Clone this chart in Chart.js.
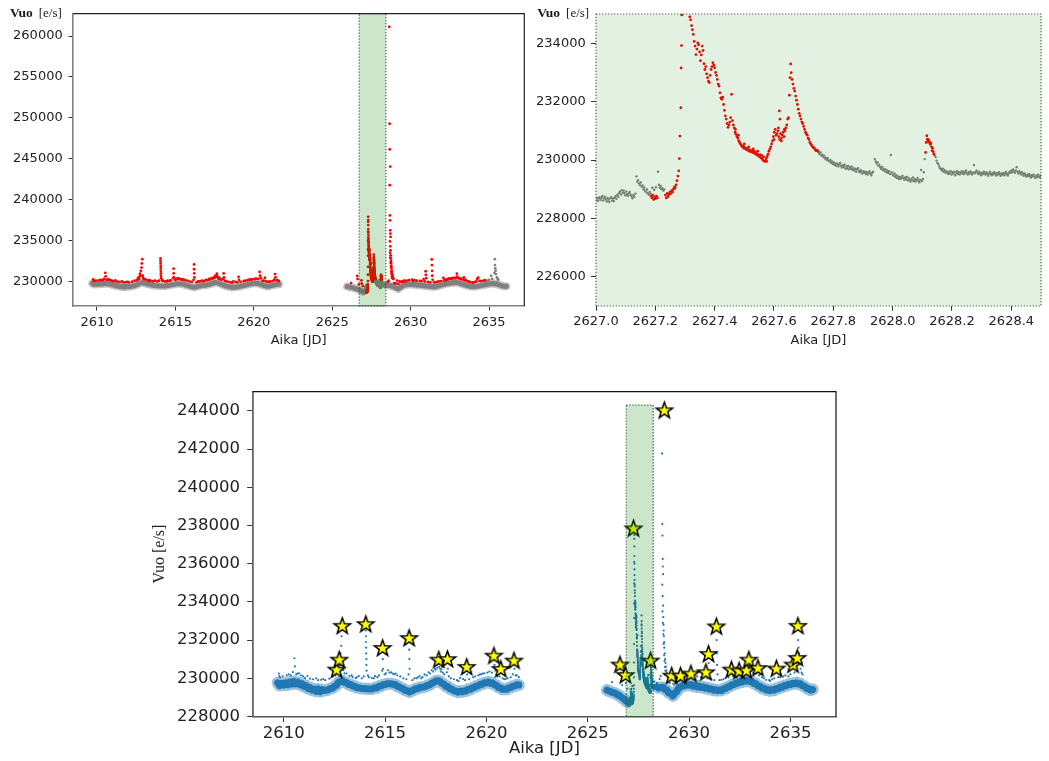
<!DOCTYPE html>
<html>
<head>
<meta charset="utf-8">
<script src="https://cdn.jsdelivr.net/npm/chart.js@4.4.1/dist/chart.umd.min.js"></script>
<style>
  html, body { margin: 0; padding: 0; background: #fff; width: 1049px; height: 761px; overflow: hidden; }
  canvas { position: absolute; }
  #overview { left: 0; top: 0; width: 530px; height: 350px; }
  #detail { left: 530px; top: 0; width: 519px; height: 350px; }
  #flares { left: 0; top: 360px; width: 1049px; height: 401px; }
</style>
</head>
<body>
<canvas id="overview" width="530" height="350"></canvas>
<canvas id="detail" width="519" height="350"></canvas>
<canvas id="flares" width="1049" height="401"></canvas>
<script>
// ---- Light curve: binned quiescent level (0.1 d bins) ----
const baseStep = 0.1;
const baseAStart = 2609.7;
const baseAFlux = [
  229760,229620,229730,229640,229760,229660,229800,229700,229830,229710,
  229790,229660,229720,229570,229620,229460,229510,229380,229430,229320,
  229440,229300,229410,229360,229380,229400,229470,229480,229580,229630,
  229790,229820,229880,229780,229780,229680,229680,229590,229580,229510,
  229500,229480,229470,229450,229450,229440,229440,229450,229510,229500,
  229580,229590,229660,229670,229720,229710,229710,229690,229680,229580,
  229560,229480,229450,229360,229350,229280,229340,229370,229450,229460,
  229520,229530,229540,229570,229640,229650,229740,229780,229860,229870,
  229850,229740,229700,229580,229560,229450,229430,229340,229340,229270,
  229330,229290,229350,229340,229420,229420,229500,229520,229590,229610,
  229690,229690,229760,229760,229810,229740,229760,229660,229630,229520,
  229500,229420,229430,229420,229500,229520,229590,229600,229660,229650
];
const baseBStart = 2625.95;
const baseBFlux = [229380,229330,229290,229250,229220,229150,229100,229020,228940,228850,228760];
const baseCStart = 2628.5;
const baseCFlux = [
  229500,229520,229530,229420,229390,229230,229200,229080,229230,229310,
  229510,229540,229630,229610,229670,229640,229670,229590,229630,229550,
  229590,229520,229550,229480,229500,229430,229450,229380,229410,229350,
  229390,229360,229450,229450,229550,229560,229660,229660,229750,229740,
  229820,229800,229880,229850,229910,229830,229830,229720,229710,229600,
  229590,229480,229480,229390,229410,229350,229410,229380,229460,229450,
  229540,229530,229620,229610,229690,229670,229740,229710,229770,229700,
  229710,229600,229580,229470,229460,229380,229410
];

// ---- Points flagged as flare candidates [time JD, flux e/s] ----
const spikeRed = [
  [2609.76,230250],[2609.78,230120],[2609.82,230050],[2609.95,230100],[2610.15,230150],[2610.25,230200],
  [2610.35,230150],[2610.45,230320],[2610.53,231050],[2610.55,230620],[2610.62,230200],[2610.68,230250],[2610.75,230260],[2610.85,230160],
  [2610.95,230100],[2611.05,230020],[2611.17,230120],[2611.30,229980],[2611.45,229950],[2611.60,230000],[2611.70,229900],[2611.85,229920],[2611.95,229960],
  [2612.05,229900],[2612.25,229980],[2612.40,230100],
  [2612.55,230150],[2612.61,230430],[2612.68,230300],[2612.72,230620],[2612.74,230950],[2612.78,230700],[2612.80,231300],
  [2612.84,231700],[2612.86,232200],[2612.89,232720],[2612.92,230700],[2612.95,230420],[2613.00,230260],
  [2613.10,230250],[2613.25,230120],[2613.35,230150],[2613.40,230060],[2613.55,230010],[2613.60,230050],[2613.70,230110],[2613.85,230000],
  [2613.95,230100],[2614.05,232810],[2614.05,232500],[2614.06,232200],[2614.06,231900],[2614.07,231600],[2614.07,231300],
  [2614.08,231000],[2614.08,230700],[2614.09,230400],[2614.15,230150],[2614.20,230060],
  [2614.35,230010],[2614.45,230000],[2614.50,230110],[2614.62,230060],[2614.70,230150],
  [2614.86,230400],[2614.88,231560],[2614.89,231000],[2614.90,230500],[2614.98,230200],
  [2615.05,230260],[2615.15,230420],[2615.22,230300],[2615.30,230310],[2615.38,230250],[2615.45,230210],[2615.52,230250],[2615.60,230160],
  [2615.75,230100],[2615.90,230000],[2616.05,229950],
  [2616.16,230200],[2616.19,232080],[2616.19,231500],[2616.20,231000],[2616.21,230500],
  [2616.35,229900],[2616.45,230000],[2616.55,230000],[2616.62,230050],[2616.70,230110],[2616.78,230000],[2616.85,230060],[2616.95,230200],
  [2617.05,230150],[2617.15,230310],[2617.22,230250],[2617.30,230420],[2617.38,230350],[2617.45,230510],[2617.50,230450],[2617.55,230700],
  [2617.58,230550],[2617.62,230760],[2617.65,230950],[2617.68,230600],
  [2617.72,230500],[2617.75,230350],[2617.78,230460],[2617.85,230300],[2617.92,230200],
  [2618.05,230310],[2618.08,230980],[2618.10,230500],[2618.15,230100],[2618.25,230000],[2618.40,229950],
  [2618.55,229900],[2618.62,229850],[2618.70,230010],[2618.85,229960],[2618.95,229900],[2619.03,230570],[2619.05,230200],
  [2619.15,229950],[2619.35,230050],[2619.45,230100],
  [2619.60,230150],[2619.68,230200],[2619.75,230210],[2619.82,230250],[2619.90,230260],[2620.05,230300],[2620.15,230350],[2620.28,230300],
  [2620.37,231160],[2620.40,230700],[2620.45,230400],[2620.55,230100],
  [2620.65,230100],[2620.71,230460],[2620.80,230000],[2620.88,229950],[2620.95,229960],[2621.05,230000],[2621.20,230050],
  [2621.30,230210],[2621.36,230900],[2621.38,230500],[2621.45,230150],[2621.50,230160],[2621.60,230060],
  [2626.20,229800],[2626.59,230690],[2626.62,230300],[2626.70,229650],[2626.86,230140],[2626.88,229750],[2626.95,229450],
  [2628.55,229960],[2628.60,230110],
  [2628.64,261130],[2628.66,249280],[2628.67,246150],[2628.67,241770],[2628.68,238080],[2628.69,237470],[2628.70,244050],
  [2628.70,236250],[2628.71,235850],[2628.72,235450],[2628.68,234900],[2628.70,234300],[2628.72,233800],[2628.73,233200],
  [2628.74,232800],[2628.75,232500],[2628.76,232200],[2628.77,231900],[2628.78,231600],[2628.80,231300],[2628.82,231000],
  [2628.84,230800],[2628.86,230600],[2628.88,230400],[2628.90,230300],[2628.69,233500],[2628.71,232900],[2628.73,232300],
  [2628.75,231800],[2628.77,231200],[2628.79,230900],[2628.81,230600],[2628.83,230400],
  [2628.95,229800],[2629.05,229750],[2629.14,230110],[2629.22,229700],[2629.30,230010],[2629.40,229950],[2629.45,229960],
  [2629.52,230050],[2629.58,230110],[2629.65,229960],[2629.75,230100],[2629.90,230150],
  [2630.09,230220],[2630.15,230060],[2630.25,230150],[2630.40,230100],
  [2630.60,230060],[2630.70,230050],[2630.83,230290],[2630.90,230000],[2630.96,231250],[2630.97,230800],[2631.00,230400],[2631.10,229950],
  [2631.25,229900],[2631.35,232690],[2631.36,232000],[2631.37,231300],[2631.38,230700],[2631.40,230200],
  [2631.50,229900],[2631.60,229920],[2631.70,229950],[2631.80,230010],[2631.95,230050],
  [2632.09,230430],[2632.15,230150],[2632.20,230110],[2632.28,230250],[2632.35,230210],[2632.42,230300],[2632.47,230370],
  [2632.55,230350],[2632.60,230310],[2632.65,230400],[2632.70,230410],[2632.78,230450],[2632.83,230390],[2632.90,230450],
  [2632.95,230950],[2632.97,230600],[2633.05,230400],[2633.10,230410],[2633.18,230300],[2633.25,230310],[2633.32,230250],
  [2633.40,230510],[2633.45,230150],[2633.50,230210],[2633.60,230050],[2633.70,230000],
  [2633.80,229910],[2633.95,229900],[2634.00,229860],[2634.10,229950],[2634.20,230000],
  [2634.25,230310],[2634.31,230480],[2634.40,230060],[2634.50,230050],[2634.65,230100],[2634.75,230150]
];

// ---- Unflagged excursions above the quiescent level ----
const spikeGray = [
  [2634.90,230100],[2635.00,230200],[2635.13,230690],[2635.20,230300],[2635.34,231040],[2635.37,232720],[2635.38,232000],
  [2635.40,231600],[2635.42,231300],[2635.44,230900],[2635.50,230500],[2635.55,230300],[2635.60,230200]
];

// ---- Full-cadence points around the large flare, 2627.0 - 2628.5 ----
const flareGray = [
  [2627.000,228650],[2627.003,228700],[2627.006,228600],[2627.009,228680],[2627.012,228730],
  [2627.015,228630],[2627.018,228700],[2627.021,228770],[2627.024,228610],[2627.027,228690],
  [2627.030,228740],[2627.033,228650],[2627.036,228580],[2627.039,228700],[2627.042,228640],
  [2627.045,228560],[2627.048,228690],[2627.051,228730],[2627.054,228610],[2627.057,228680],
  [2627.060,228590],[2627.063,228700],[2627.066,228760],[2627.069,228670],[2627.072,228810],
  [2627.075,228740],[2627.078,228870],[2627.081,228920],[2627.084,228820],[2627.087,228970],
  [2627.090,228880],[2627.093,228950],[2627.096,228860],[2627.099,228790],[2627.102,228920],
  [2627.105,228830],[2627.108,228770],[2627.111,228860],[2627.114,228910],[2627.117,228810],
  [2627.120,228750],[2627.123,228690],[2627.126,228800],[2627.129,228740],[2627.133,228850],
  [2627.136,229440],[2627.139,229260],[2627.142,229310],[2627.145,229200],[2627.148,229140],
  [2627.151,229230],[2627.154,229080],[2627.157,229130],[2627.160,229000],[2627.163,229060],
  [2627.166,228940],[2627.169,228900],[2627.172,228990],[2627.175,228860],[2627.178,228820],
  [2627.181,228910],[2627.184,228850],[2627.190,229050],[2627.196,228980],[2627.202,229070],
  [2627.209,229600],[2627.212,229150],[2627.215,229050],[2627.218,229110],[2627.221,229000],
  [2627.224,229030],[2627.227,228950],[2627.230,228990],
  [2627.751,230250],[2627.754,230200],[2627.757,230260],[2627.760,230150],[2627.763,230180],
  [2627.766,230100],[2627.769,230150],[2627.772,230050],[2627.775,230080],[2627.778,230000],
  [2627.781,230060],[2627.784,229980],[2627.787,229950],[2627.790,230000],[2627.793,229900],
  [2627.796,229950],[2627.799,229860],[2627.802,229920],[2627.805,229830],[2627.808,229880],
  [2627.811,229800],[2627.814,229870],[2627.817,229780],[2627.820,229850],[2627.823,229900],
  [2627.826,229800],[2627.829,229740],[2627.832,229820],[2627.835,229760],[2627.838,229840],
  [2627.841,229700],[2627.844,229780],[2627.847,229720],[2627.850,229800],[2627.853,229680],
  [2627.856,229750],[2627.859,229700],[2627.862,229780],[2627.865,229660],[2627.868,229720],
  [2627.871,229640],[2627.874,229700],[2627.877,229600],[2627.880,229680],[2627.883,229720],
  [2627.886,229620],[2627.889,229580],[2627.892,229660],[2627.895,229600],[2627.898,229540],
  [2627.901,229620],[2627.904,229560],[2627.907,229600],[2627.910,229520],[2627.913,229580],
  [2627.916,229500],[2627.919,229560],[2627.922,229620],[2627.925,229540],[2627.928,229480],
  [2627.931,229560],[2627.934,229600],[2627.940,230030],[2627.943,229950],[2627.946,229880],
  [2627.949,229920],[2627.952,229800],[2627.955,229840],[2627.958,229750],[2627.961,229700],
  [2627.964,229760],[2627.967,229660],[2627.970,229700],[2627.973,229620],[2627.976,229680],
  [2627.979,229580],[2627.982,229640],[2627.985,229560],[2627.988,229620],[2627.991,229520],
  [2627.994,230170],[2627.997,229580],[2628.000,229500],[2628.003,229460],[2628.006,229540],
  [2628.009,229420],[2628.012,229480],[2628.015,229380],[2628.018,229440],[2628.021,229360],
  [2628.024,229420],[2628.027,229350],[2628.030,229400],[2628.033,229460],[2628.036,229380],
  [2628.039,229320],[2628.042,229400],[2628.045,229340],[2628.048,229420],[2628.051,229300],
  [2628.054,229380],[2628.057,229320],[2628.060,229260],[2628.063,229360],[2628.066,229300],
  [2628.069,229400],[2628.072,229280],[2628.075,229340],[2628.078,229260],[2628.081,229320],
  [2628.084,229380],[2628.087,229300],[2628.090,229240],[2628.093,229320],[2628.096,229660],
  [2628.099,229280],[2628.102,229350],[2628.105,229580],[2628.108,230030],
  [2628.142,230150],[2628.145,230100],[2628.148,229980],[2628.151,229900],[2628.154,229860],
  [2628.157,229780],[2628.160,229720],[2628.163,229690],[2628.166,229640],[2628.169,229700],
  [2628.172,229600],[2628.175,229660],[2628.178,229560],[2628.181,229620],[2628.184,229580],
  [2628.187,229520],[2628.190,229600],[2628.193,229540],[2628.196,229620],[2628.199,229500],
  [2628.202,229580],[2628.205,229540],[2628.208,229600],[2628.211,229480],[2628.214,229560],
  [2628.217,229620],[2628.220,229520],[2628.223,229580],[2628.226,229500],[2628.229,229560],
  [2628.232,229620],[2628.235,229540],[2628.238,229600],[2628.241,229520],[2628.244,229580],
  [2628.247,229640],[2628.250,229560],[2628.253,229500],[2628.256,229580],[2628.259,229530],
  [2628.262,229610],[2628.265,229560],[2628.268,229500],[2628.271,229570],[2628.274,229830],
  [2628.277,229550],[2628.280,229600],[2628.283,229630],[2628.286,229560],[2628.289,229520],
  [2628.292,229600],[2628.295,229540],[2628.298,229480],[2628.301,229560],[2628.304,229520],
  [2628.307,229600],[2628.310,229540],[2628.313,229500],[2628.316,229580],[2628.319,229520],
  [2628.322,229460],[2628.325,229540],[2628.328,229600],[2628.331,229520],[2628.334,229480],
  [2628.337,229560],[2628.340,229510],[2628.343,229580],[2628.346,229530],[2628.349,229470],
  [2628.352,229550],[2628.355,229500],[2628.358,229580],[2628.361,229520],[2628.364,229460],
  [2628.367,229540],[2628.370,229500],[2628.373,229560],[2628.376,229480],[2628.379,229530],
  [2628.382,229590],[2628.385,229520],[2628.388,229470],[2628.391,229540],[2628.394,229600],
  [2628.397,229560],[2628.400,229640],[2628.403,229580],[2628.406,229680],[2628.409,229620],
  [2628.412,229560],[2628.415,229640],[2628.418,229750],[2628.421,229600],[2628.424,229540],
  [2628.427,229620],[2628.430,229560],[2628.433,229500],[2628.436,229580],[2628.439,229520],
  [2628.442,229460],[2628.445,229540],[2628.448,229480],[2628.451,229430],[2628.454,229500],
  [2628.457,229450],[2628.460,229520],[2628.463,229460],[2628.466,229400],[2628.469,229480],
  [2628.472,229440],[2628.475,229500],[2628.478,229430],[2628.481,229380],[2628.484,229460],
  [2628.487,229420],[2628.490,229500],[2628.493,229440],[2628.496,229400],[2628.499,229470]
];
const flareRed = [
  [2627.186,228760],[2627.189,228700],[2627.192,228800],[2627.195,228650],[2627.198,228730],
  [2627.201,228680],[2627.204,228760],[2627.207,228700],
  [2627.234,228800],[2627.237,228700],[2627.240,228860],[2627.243,228750],[2627.246,228820],
  [2627.249,228900],[2627.252,228850],[2627.255,228950],[2627.258,228900],[2627.261,229000],
  [2627.264,229080],[2627.267,229050],[2627.270,229150],[2627.273,229290],[2627.276,229450],
  [2627.279,229630],[2627.281,230050],[2627.283,230820],[2627.286,231790],[2627.287,233150],
  [2627.288,233920],[2627.289,234970],[2627.291,236100],[2627.293,237300],[2627.295,237900],
  [2627.297,237500],[2627.299,236900],[2627.301,236400],[2627.303,236000],[2627.306,235700],
  [2627.309,235400],[2627.312,235150],[2627.316,234900],[2627.319,234800],[2627.322,234600],
  [2627.325,234460],[2627.328,234300],[2627.331,234060],[2627.334,233900],[2627.337,233610],
  [2627.340,233800],[2627.343,234010],[2627.346,233950],[2627.349,233700],[2627.352,233400],
  [2627.355,233600],[2627.358,233900],[2627.361,233750],[2627.364,233300],[2627.367,233100],
  [2627.370,233200],[2627.373,232950],[2627.376,232820],[2627.379,232700],[2627.382,232650],
  [2627.385,232900],[2627.388,233100],[2627.391,233200],[2627.394,233330],[2627.397,233250],
  [2627.400,233160],[2627.403,233000],[2627.406,232900],[2627.409,232760],[2627.412,232600],
  [2627.415,232530],[2627.418,232300],[2627.421,232130],[2627.424,232080],[2627.427,232150],
  [2627.430,231900],[2627.433,231700],[2627.436,231510],[2627.439,231400],[2627.442,231250],
  [2627.445,231120],[2627.448,231200],[2627.451,231300],[2627.454,231450],[2627.457,232250],
  [2627.460,231350],[2627.463,231200],[2627.466,231100],[2627.469,230950],[2627.472,230880],
  [2627.475,230800],[2627.478,230750],[2627.481,230660],[2627.484,230600],[2627.487,230550],
  [2627.490,230500],[2627.493,230450],[2627.496,230480],[2627.499,230400],[2627.502,230430],
  [2627.505,230380],[2627.508,230350],[2627.511,230400],[2627.514,230320],[2627.517,230300],
  [2627.520,230350],[2627.523,230280],[2627.526,230300],[2627.529,230250],[2627.532,230300],
  [2627.535,230220],[2627.538,230260],[2627.541,230180],[2627.544,230200],[2627.547,230150],
  [2627.550,230120],[2627.553,230180],[2627.556,230080],[2627.559,230050],[2627.562,230000],
  [2627.565,230100],[2627.568,229950],[2627.571,229980],[2627.574,230050],[2627.577,230120],
  [2627.580,230200],[2627.583,230300],[2627.586,230380],[2627.589,230450],[2627.592,230550],
  [2627.595,230650],[2627.598,230800],[2627.601,230950],[2627.604,231050],[2627.607,230850],
  [2627.610,230900],[2627.613,231000],[2627.616,230800],[2627.618,231680],[2627.620,231400],
  [2627.619,230700],[2627.622,230900],[2627.625,230750],[2627.628,230850],[2627.631,230950],
  [2627.634,230800],[2627.637,231000],[2627.640,231100],[2627.643,231200],[2627.646,231400],
  [2627.649,231450],[2627.652,232220],[2627.654,232820],[2627.656,233290],[2627.658,232990],
  [2627.661,232760],[2627.664,232600],[2627.667,232450],[2627.670,232360],[2627.673,232190],
  [2627.676,232050],[2627.679,231900],[2627.682,231740],[2627.685,231600],[2627.688,231510],
  [2627.691,231400],[2627.694,231300],[2627.697,231250],[2627.700,231150],[2627.703,231050],
  [2627.706,230950],[2627.709,230900],[2627.712,230850],[2627.715,230750],[2627.718,230700],
  [2627.721,230600],[2627.724,230550],[2627.727,230500],[2627.730,230450],[2627.733,230430],
  [2627.736,230400],[2627.739,230350],[2627.742,230320],[2627.745,230340],[2627.748,230300],
  [2627.470,231050],[2627.480,230850],[2627.500,230550],[2627.515,230450],[2627.530,230380],
  [2627.545,230300],[2627.560,230150],[2627.575,229950],[2627.600,230700],[2627.615,231100],
  [2627.625,230650],[2627.635,231050],
  [2628.111,230260],[2628.113,230600],[2628.115,230830],[2628.117,230710],[2628.119,230650],
  [2628.121,230700],[2628.123,230600],[2628.125,230620],[2628.127,230540],[2628.129,230580],
  [2628.131,230450],[2628.133,230320],[2628.135,230400],[2628.137,230280],[2628.139,230200]
];

// ---- Detected flare peaks [time JD, flux e/s] ----
const flarePeaks = [
  [2612.61,230430],[2612.74,230950],[2612.89,232720],[2614.05,232810],[2614.88,231560],[2616.19,232080],
  [2617.65,230950],[2618.08,230980],[2619.03,230570],[2620.37,231160],[2620.71,230460],[2621.36,230900],
  [2626.59,230690],[2626.86,230140],[2627.26,237820],[2628.10,230900],[2628.78,244000],[2629.14,230110],
  [2629.58,230110],[2630.09,230220],[2630.83,230290],[2630.96,231250],[2631.35,232690],[2632.09,230430],
  [2632.47,230370],[2632.83,230390],[2632.95,230950],[2633.40,230510],[2634.31,230480],[2635.13,230690],
  [2635.34,231040],[2635.37,232720]
];

// ---- Highlighted intervals ----
const spanOverview = [2626.72, 2628.42];
const spanDetail = [2627.0, 2628.5];
const spanFlares = [2626.90, 2628.23];
const spanFlaresFlux = [228000, 244300];

// ---- Axis ticks ----
const jdTicks = [2610, 2615, 2620, 2625, 2630, 2635];
const jdLabels = ['2610', '2615', '2620', '2625', '2630', '2635'];
const overviewFluxTicks = [230000, 235000, 240000, 245000, 250000, 255000, 260000];
const overviewFluxLabels = ['230000', '235000', '240000', '245000', '250000', '255000', '260000'];
const detailJdTicks = [2627.0, 2627.2, 2627.4, 2627.6, 2627.8, 2628.0, 2628.2, 2628.4];
const detailJdLabels = ['2627.0', '2627.2', '2627.4', '2627.6', '2627.8', '2628.0', '2628.2', '2628.4'];
const detailFluxTicks = [226000, 228000, 230000, 232000, 234000];
const detailFluxLabels = ['226000', '228000', '230000', '232000', '234000'];
const flaresFluxTicks = [228000, 230000, 232000, 234000, 236000, 238000, 240000, 242000, 244000];
const flaresFluxLabels = ['228000', '230000', '232000', '234000', '236000', '238000', '240000', '242000', '244000'];

// ---- Helpers ----
const GRAY = '#808080', RED = '#ff0000', BLUE = '#1f77b4';
const GRAY_SOFT = 'rgba(128,128,128,0.45)', BLUE_SOFT = 'rgba(31,119,180,0.45)';
Chart.defaults.font.family = "'DejaVu Sans', sans-serif";
Chart.defaults.color = '#222';

const binned = (start, flux) => flux.map((v, i) => ({ x: +(start + i * baseStep).toFixed(3), y: v }));
const toXY = (pairs) => pairs.map(p => ({ x: p[0], y: p[1] }));

const dots = (pairs, color, r, order) => ({
  data: toXY(pairs), backgroundColor: color, borderWidth: 0, pointRadius: r, pointHoverRadius: r,
  pointStyle: 'circle', showLine: false, clip: 0, order
});
// Quiescent level drawn as a noisy strip: soft outer edge plus solid core
const band = (start, flux, color, width, order) => ({
  data: binned(start, flux), showLine: true, borderColor: color, borderWidth: width, pointRadius: 0,
  borderJoinStyle: 'round', borderCapStyle: 'round', fill: false, tension: 0, clip: 0, order
});
const strip = (color, soft, outer, inner) => [
  band(baseAStart, baseAFlux, color, inner, 8), band(baseBStart, baseBFlux, color, inner, 8), band(baseCStart, baseCFlux, color, inner, 8),
  band(baseAStart, baseAFlux, soft, outer, 9), band(baseBStart, baseBFlux, soft, outer, 9), band(baseCStart, baseCFlux, soft, outer, 9)
];

function starMarker(R, r, lw) {
  const size = Math.ceil(2 * R + 2 * lw + 2);
  const c = document.createElement('canvas');
  c.width = size; c.height = size;
  const g = c.getContext('2d');
  const cx = size / 2, cy = size / 2;
  g.beginPath();
  for (let k = 0; k < 10; k++) {
    const rad = k % 2 ? r : R;
    const a = -Math.PI / 2 + k * Math.PI / 5;
    const px = cx + rad * Math.cos(a), py = cy + rad * Math.sin(a);
    if (k === 0) g.moveTo(px, py); else g.lineTo(px, py);
  }
  g.closePath();
  g.fillStyle = '#ffff00';
  g.fill();
  g.lineWidth = lw;
  g.lineJoin = 'miter';
  g.strokeStyle = '#000';
  g.stroke();
  return c;
}

function xAxis(o) {
  return {
    type: 'linear', position: 'bottom', min: o.min, max: o.max,
    afterBuildTicks: s => { s.ticks = o.ticks.map(v => ({ value: v })); },
    afterFit: s => { s.height = o.height; },
    ticks: { autoSkip: false, maxRotation: 0, minRotation: 0, padding: o.pad, color: '#222',
             font: { size: o.size }, callback: (v, i) => o.labels[i] },
    grid: { drawOnChartArea: false, drawTicks: true, tickLength: o.tick, tickColor: '#333', tickWidth: 1 },
    border: { display: o.border !== false, color: o.borderColor || '#808080', width: o.borderWidth || 1.6 },
    title: { display: true, text: 'Aika [JD]', color: '#222', font: { size: o.size }, padding: 0 }
  };
}
function yAxis(o) {
  return {
    type: 'linear', position: 'left', min: o.min, max: o.max,
    afterBuildTicks: s => { s.ticks = o.ticks.map(v => ({ value: v })); },
    afterFit: s => { s.width = o.width; },
    ticks: { autoSkip: false, padding: o.pad, color: '#222', font: { size: o.size },
             callback: (v, i) => o.labels[i] },
    grid: { drawOnChartArea: false, drawTicks: true, tickLength: o.tick, tickColor: '#333', tickWidth: 1 },
    border: { display: o.border !== false, color: o.borderColor || '#808080', width: o.borderWidth || 1.6 },
    title: o.title ? { display: true, text: o.title, color: '#222', padding: 0,
                       font: { family: "'Liberation Serif', 'DejaVu Serif', serif", size: 16 } } : { display: false }
  };
}

// Shaded interval with dotted outline, laid over the data
function shadedSpan(range, fluxRange, alpha) {
  return {
    id: 'shadedSpan',
    afterDatasetsDraw(chart) {
      const { ctx, chartArea: a, scales } = chart;
      const x0 = scales.x.getPixelForValue(range[0]);
      const x1 = scales.x.getPixelForValue(range[1]);
      let yTop = fluxRange ? scales.y.getPixelForValue(fluxRange[1]) : a.top;
      let yBot = fluxRange ? scales.y.getPixelForValue(fluxRange[0]) : a.bottom;
      yTop = Math.max(yTop, a.top); yBot = Math.min(yBot, a.bottom);
      ctx.save();
      ctx.fillStyle = 'rgba(0,128,0,' + alpha + ')';
      ctx.fillRect(x0, yTop, x1 - x0, yBot - yTop);
      ctx.setLineDash([1.3, 1.7]);
      ctx.lineWidth = 1.2;
      ctx.strokeStyle = 'rgba(45,75,45,0.85)';
      ctx.strokeRect(x0, yTop, x1 - x0, yBot - yTop);
      ctx.restore();
    }
  };
}
// Top and right frame lines
function outerSpines(color, width) {
  return {
    id: 'outerSpines',
    afterDraw(chart) {
      const { ctx, chartArea: a } = chart;
      ctx.save();
      ctx.strokeStyle = color; ctx.lineWidth = width;
      ctx.beginPath();
      ctx.moveTo(a.left, a.top); ctx.lineTo(a.right, a.top); ctx.lineTo(a.right, a.bottom);
      ctx.stroke();
      ctx.restore();
    }
  };
}
// Horizontal unit label above the flux axis
function unitLabel(x, y) {
  return {
    id: 'unitLabel',
    afterDraw(chart) {
      const ctx = chart.ctx;
      ctx.save();
      ctx.fillStyle = '#1a1a1a';
      ctx.textAlign = 'left'; ctx.textBaseline = 'alphabetic';
      ctx.font = "bold 13.5px 'Liberation Serif', 'DejaVu Serif', serif";
      ctx.fillText('Vuo', x, y);
      const w = ctx.measureText('Vuo').width;
      ctx.font = "13px 'Liberation Serif', 'DejaVu Serif', serif";
      ctx.fillText('[e/s]', x + w + 6, y);
      ctx.restore();
    }
  };
}

const baseOptions = (padding, scales) => ({
  responsive: false, animation: false, devicePixelRatio: 1, events: [],
  layout: { padding },
  plugins: { legend: { display: false }, tooltip: { enabled: false } },
  scales
});

// ---- Panel 1: whole light curve, flagged points in red ----
new Chart(document.getElementById('overview'), {
  type: 'scatter',
  data: {
    datasets: [
      dots(flareRed, RED, 1.4, 1),
      dots(spikeRed, RED, 1.4, 1),
      dots(spikeGray, GRAY, 1.4, 2),
      dots(flareGray, GRAY, 1.5, 3),
      ...strip(GRAY, GRAY_SOFT, 8, 5)
    ]
  },
  options: baseOptions({ left: 0, top: 12.7, right: 5.7, bottom: 2 }, {
    x: xAxis({ min: 2608.47, max: 2637.25, ticks: jdTicks, labels: jdLabels, size: 13, pad: 4, tick: 4.5, height: 42 }),
    y: yAxis({ min: 227000, max: 262750, ticks: overviewFluxTicks, labels: overviewFluxLabels, size: 13, pad: 5.8, tick: 4.5, width: 73 })
  }),
  plugins: [shadedSpan(spanOverview, null, 0.2), outerSpines('#222', 1.2), unitLabel(10, 16.5)]
});

// ---- Panel 2: close-up of the large flare ----
new Chart(document.getElementById('detail'), {
  type: 'scatter',
  data: {
    datasets: [
      dots(flareRed, RED, 1.4, 1),
      dots(flareGray, GRAY, 1.2, 2)
    ]
  },
  options: baseOptions({ left: 0, top: 14, right: 8, bottom: 1.2 }, {
    x: xAxis({ min: 2627.0, max: 2628.5, ticks: detailJdTicks, labels: detailJdLabels, size: 13, pad: 3.2, tick: 4.7, height: 42.8, border: false }),
    y: yAxis({ min: 225000, max: 235000, ticks: detailFluxTicks, labels: detailFluxLabels, size: 13, pad: 5.3, tick: 5, width: 66, border: false })
  }),
  plugins: [shadedSpan(spanDetail, null, 0.11), unitLabel(7.3, 17)]
});

// ---- Panel 3: light curve with detected flare peaks ----
new Chart(document.getElementById('flares'), {
  type: 'scatter',
  data: {
    datasets: [
      { data: toXY(flarePeaks), pointStyle: starMarker(8.6, 3.5, 1.5), pointRadius: 9, showLine: false, clip: 0, order: 0 },
      dots(flareRed, BLUE, 1.1, 1),
      dots(spikeRed, BLUE, 1.1, 1),
      dots(spikeGray, BLUE, 1.1, 1),
      dots(flareGray, BLUE, 1.3, 2),
      ...strip(BLUE, BLUE_SOFT, 12, 7)
    ]
  },
  options: baseOptions({ left: 150, top: 31.7, right: 213, bottom: 2.1 }, {
    x: xAxis({ min: 2608.47, max: 2637.25, ticks: jdTicks, labels: jdLabels, size: 16.5, pad: 2.1, tick: 5.5, height: 42.4,
               borderColor: '#555', borderWidth: 1.6 }),
    y: yAxis({ min: 228000, max: 245000, ticks: flaresFluxTicks, labels: flaresFluxLabels, size: 16.5, pad: 7.2, tick: 5.5, width: 102.7,
               borderColor: '#666', borderWidth: 1.8, title: 'Vuo [e/s]' })
  }),
  plugins: [shadedSpan(spanFlares, spanFlaresFlux, 0.2), outerSpines('#111', 1.2)]
});
</script>
</body>
</html>
